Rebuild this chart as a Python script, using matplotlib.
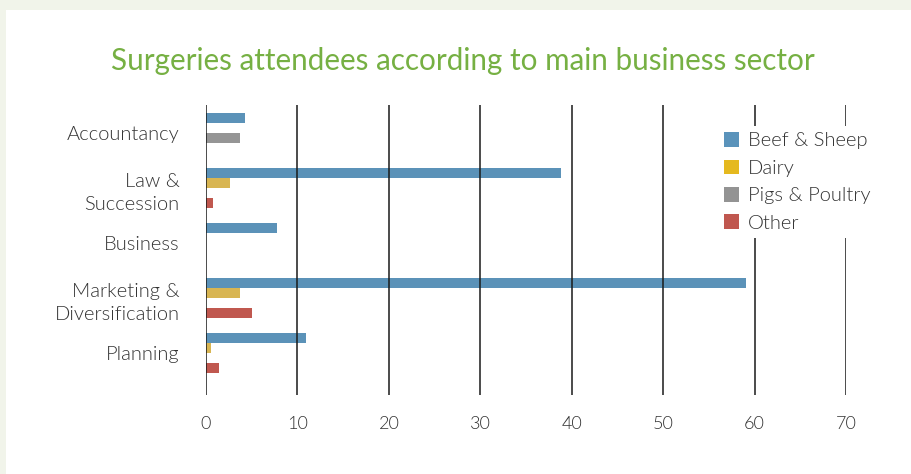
import numpy as np
import matplotlib.pyplot as plt
from matplotlib.patches import Patch, Rectangle

# Data
categories = ['Accountancy', 'Law &\nSuccession', 'Business', 'Marketing &\nDiversification', 'Planning']
series = ['Beef & Sheep', 'Dairy', 'Pigs & Poultry', 'Other']
beef_sheep = [4.3, 38.8, 7.8, 59.1, 10.9]
dairy = [0, 2.6, 0, 3.7, 0.5]
pigs_poultry = [3.7, 0, 0, 0, 0]
other = [0, 0.8, 0, 5.0, 1.4]
xticks = [0, 10, 20, 30, 40, 50, 60, 70]

bar_colors = ['#5b92b8', '#d8b552', '#959595', '#c0584f']
legend_colors = ['#5a93bb', '#e5b91f', '#939393', '#c0574f']

plt.rcParams['font.family'] = ['Lato', 'DejaVu Sans']
text_weight = 300

W, H = 912, 474
fig = plt.figure(figsize=(W / 100, H / 100), dpi=100)
fig.patch.set_facecolor('#f1f4ea')
fig.patches.append(Rectangle((6 / W, 0), 1, 1 - 10 / H, transform=fig.transFigure,
                             facecolor='white', edgecolor='none', zorder=-10))

ax = fig.add_axes([206 / W, (H - 395) / H, 640 / W, 290 / H])
ax.set_facecolor('none')
ax.set_zorder(2)

step = 10 / 55
group_pos = np.arange(len(categories))
values = [beef_sheep, dairy, pigs_poultry, other]
for i, vals in enumerate(values):
    ax.barh(group_pos + i * step, vals, height=step * 0.95, color=bar_colors[i],
            edgecolor='none', zorder=2)

ax.set_xlim(0, 70)
ax.set_ylim((395 - 118) / 55, (105 - 118) / 55)
ax.set_xticks(xticks)
ax.set_xticklabels([str(t) for t in xticks], fontsize=13, color='#333333', fontweight=text_weight)
ax.set_yticks(group_pos + 1.5 * step)
ax.set_yticklabels(categories, fontsize=14.5, color='#333333', fontweight=text_weight,
                   linespacing=1.45)
ax.tick_params(axis='both', length=0)
ax.tick_params(axis='x', pad=15)
ax.tick_params(axis='y', pad=19)
for t in ax.get_yticklabels():
    t.set_multialignment('right')

for t in xticks:
    ax.axvline(t, color='#1a1a1a', lw=1.1, zorder=3)

for s in ax.spines.values():
    s.set_visible(False)

handles = [Patch(facecolor=c, edgecolor='none') for c in legend_colors]
leg = ax.legend(handles, series, loc='upper left', bbox_to_anchor=(718 / W, 1 - 126 / H),
                bbox_transform=fig.transFigure,
                frameon=True, fontsize=14.5, handlelength=0.75, handleheight=0.75,
                handletextpad=0.45, labelspacing=0.5, borderpad=0.3, borderaxespad=0)
leg.set_zorder(5)
leg.get_frame().set_facecolor('white')
leg.get_frame().set_edgecolor('none')
leg.get_frame().set_alpha(1)
for t in leg.get_texts():
    t.set_color('#333333')
    t.set_fontweight(text_weight)

fig.text(463 / W, 1 - 61 / H, 'Surgeries attendees according to main business sector',
         ha='center', va='center', fontsize=21.3, color='#76b043')

fig.savefig('out.png', dpi=100, facecolor=fig.get_facecolor())
